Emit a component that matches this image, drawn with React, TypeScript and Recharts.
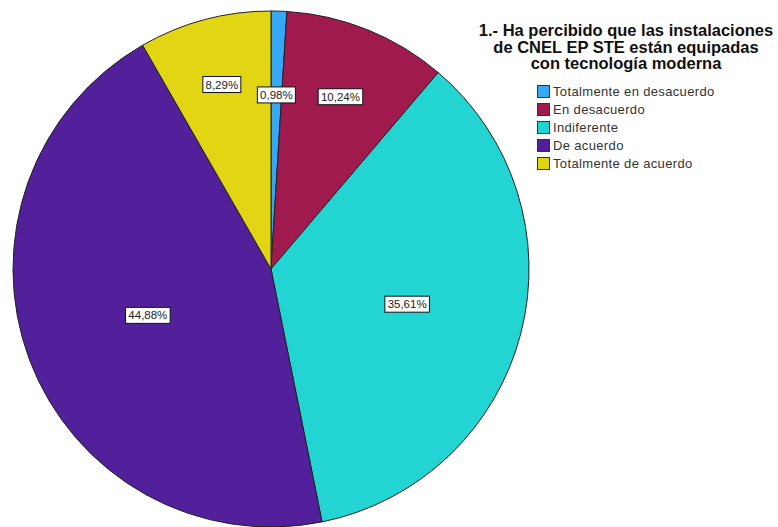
import React from "react";
import { PieChart, Pie, Cell } from "recharts";

const categories = [
  "Totalmente en desacuerdo",
  "En desacuerdo",
  "Indiferente",
  "De acuerdo",
  "Totalmente de acuerdo",
];
const percents = [0.98, 10.24, 35.61, 44.88, 8.29];
const colors = ["#36A8F6", "#A11A4E", "#22D4D2", "#52209A", "#E2D513"];
const titleLines = [
  "1.- Ha percibido que las instalaciones",
  "de CNEL EP STE están equipadas",
  "con tecnología moderna",
];

// how far out each label sits (fraction of outer radius)
const labelRadius = [0.675, 0.72, 0.545, 0.51, 0.74];

const data = categories.map((name, i) => ({ name, value: percents[i] }));

const fmt = (v: number) => v.toFixed(2).replace(".", ",") + "%";

const RAD = Math.PI / 180;

const SliceLabel = (props: any) => {
  const { cx, cy, midAngle, outerRadius, index, value } = props;
  const r = outerRadius * labelRadius[index];
  const x = cx + r * Math.cos(-midAngle * RAD);
  const y = cy + r * Math.sin(-midAngle * RAD);
  const text = fmt(value);
  const w = text.length * 6.6 + 5;
  return (
    <g>
      <rect
        x={x - w / 2}
        y={y - 8}
        width={w}
        height={16}
        fill="#fff"
        stroke="#111"
        strokeWidth={1}
      />
      <text
        x={x}
        y={y + 4}
        textAnchor="middle"
        fontSize={11.5}
        fontFamily="Arial, 'Liberation Sans', sans-serif"
        fill="#222"
      >
        {text}
      </text>
    </g>
  );
};

export default function App() {
  return (
    <div
      style={{
        position: "absolute",
        left: 0,
        top: 0,
        width: 778,
        height: 527,
        background: "#fff",
        overflow: "hidden",
        fontFamily: "Arial, 'Liberation Sans', sans-serif",
      }}
    >
      <PieChart
        width={778}
        height={527}
        margin={{ top: 0, right: 0, bottom: 0, left: 0 }}
      >
        <Pie
          data={data}
          dataKey="value"
          nameKey="name"
          cx={271}
          cy={269}
          outerRadius={258}
          startAngle={90}
          endAngle={-270}
          stroke="#222"
          strokeWidth={1}
          label={SliceLabel}
          labelLine={false}
          isAnimationActive={false}
        >
          {data.map((d, i) => (
            <Cell key={d.name} fill={colors[i]} />
          ))}
        </Pie>
      </PieChart>
      <div
        style={{
          position: "absolute",
          left: 472,
          top: 22,
          width: 308,
          textAlign: "center",
          fontWeight: "bold",
          fontSize: 16.5,
          lineHeight: "16.5px",
          color: "#111",
        }}
      >
        {titleLines.map((t) => (
          <div key={t}>{t}</div>
        ))}
      </div>
      <div style={{ position: "absolute", left: 537, top: 83 }}>
        {categories.map((c, i) => (
          <div
            key={c}
            style={{
              display: "flex",
              alignItems: "center",
              height: 17.8,
              fontSize: 13,
              letterSpacing: 0.35,
              color: "#333",
            }}
          >
            <span
              style={{
                display: "inline-block",
                width: 11,
                height: 11,
                background: colors[i],
                border: "1px solid #333",
                marginRight: 3,
              }}
            />
            {c}
          </div>
        ))}
      </div>
    </div>
  );
}
